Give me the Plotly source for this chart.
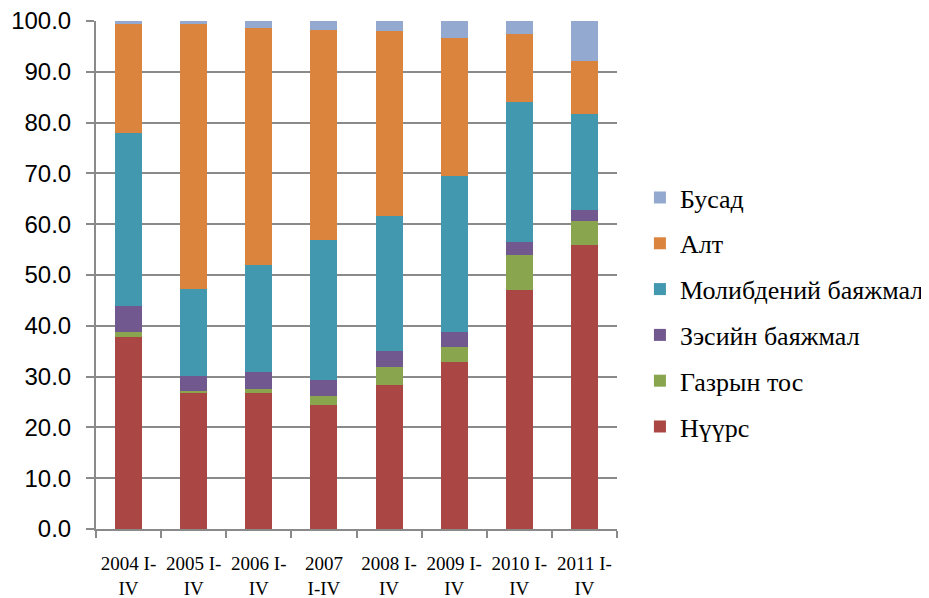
import plotly.graph_objects as go

categories = ["2004 I-<br>IV", "2005 I-<br>IV", "2006 I-<br>IV", "2007<br>I-IV",
              "2008 I-<br>IV", "2009 I-<br>IV", "2010 I-<br>IV", "2011 I-<br>IV"]

coal = [37.8, 26.8, 26.8, 24.4, 28.3, 32.9, 47.0, 55.9]
oil = [1.0, 0.4, 0.8, 1.8, 3.6, 2.9, 6.9, 4.7]
copper = [5.1, 2.9, 3.3, 3.2, 3.1, 3.0, 2.6, 2.1]
molybdenum = [34.0, 17.1, 21.0, 27.5, 26.7, 30.7, 27.5, 18.9]
gold = [21.6, 52.3, 46.8, 41.4, 36.4, 27.2, 13.4, 10.6]
other = [0.5, 0.5, 1.3, 1.7, 1.9, 3.3, 2.6, 7.8]

series = [
    ("Нүүрс", coal, "#AA4643"),
    ("Газрын тос", oil, "#89A54E"),
    ("Зэсийн баяжмал", copper, "#71588F"),
    ("Молибдений баяжмал", molybdenum, "#4198AF"),
    ("Алт", gold, "#DB843D"),
    ("Бусад", other, "#93A9CF"),
]

SERIF = "Liberation Serif"

fig = go.Figure()
n = len(series)
for i, (name, vals, color) in enumerate(series):
    fig.add_trace(go.Bar(x=categories, y=vals, name=name,
                         marker_color=color, marker_line_width=0, legendgroup=name,
                         legendrank=n - i))

fig.update_layout(
    font=dict(family=SERIF, color="black"),
    barmode="stack",
    bargap=0.585,
    width=921, height=590,
    margin=dict(l=88, r=312, t=13, b=69, autoexpand=False),
    plot_bgcolor="white", paper_bgcolor="white",
    legend=dict(x=1.044, xanchor="left", y=0.427, yanchor="middle",
                traceorder="grouped", tracegroupgap=9,
                font=dict(family=SERIF, size=26, color="black")),
    showlegend=True,
)
fig.update_yaxes(range=[0, 100], dtick=10, tickformat=".1f", automargin=False,
                 showgrid=True, gridcolor="#8a8a8a", gridwidth=2,
                 showline=True, linecolor="#8a8a8a", linewidth=2,
                 ticks="outside", ticklen=8, tickcolor="#8a8a8a", tickwidth=2,
                 ticklabelstandoff=10, ticklabeloverflow="allow",
                 tickfont=dict(family="Liberation Sans", size=24, color="black"),
                 zeroline=False)
fig.update_xaxes(showline=True, linecolor="#8a8a8a", linewidth=2, automargin=False,
                 ticks="outside", ticklen=7, tickcolor="#8a8a8a", tickwidth=2,
                 tickson="boundaries", ticklabeloverflow="allow",
                 ticklabelstandoff=16,
                 tickfont=dict(family=SERIF, size=19, color="black"),
                 tickangle=0)

fig.write_html("out.html")
